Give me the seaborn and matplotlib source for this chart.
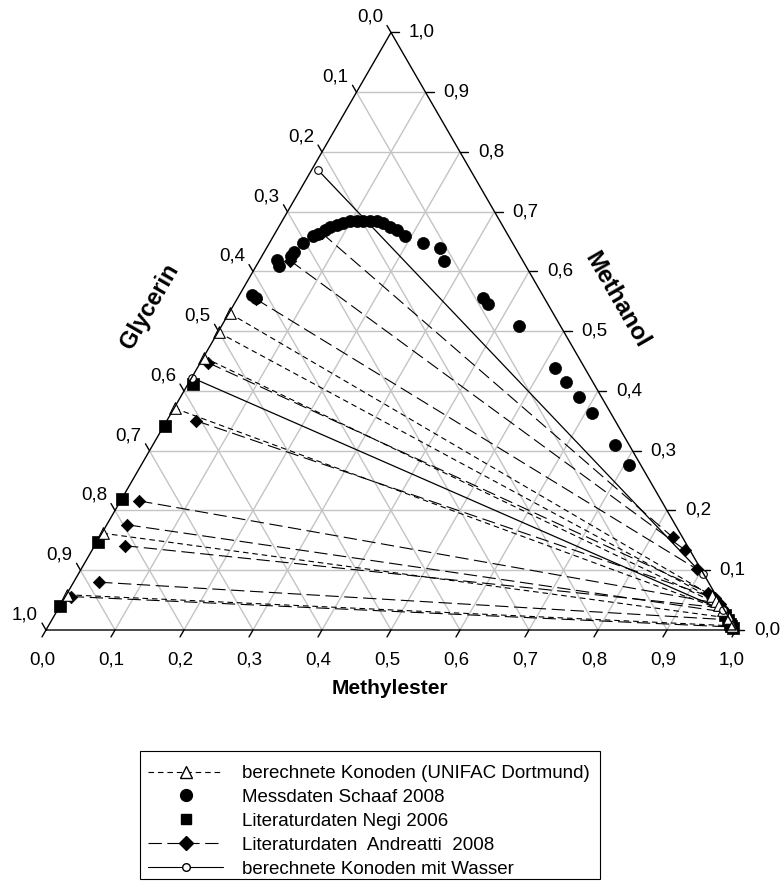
import numpy as np
import pandas as pd
import matplotlib.pyplot as plt
import seaborn as sns
from matplotlib.lines import Line2D
from matplotlib.patches import Rectangle

# mass fractions (methylester, methanol); glycerin = rest

# Messdaten Schaaf 2008 (binodal curve)
schaaf_ester = [0.018, 0.027, 0.025, 0.033, 0.042, 0.043, 0.049, 0.057, 0.063, 0.070,
                0.074, 0.083, 0.090, 0.098, 0.108, 0.117, 0.127, 0.138, 0.148, 0.161,
                0.174, 0.191, 0.223, 0.251, 0.268, 0.356, 0.368, 0.431, 0.519, 0.546,
                0.578, 0.610, 0.670, 0.707]
schaaf_methanol = [0.561, 0.556, 0.619, 0.609, 0.626, 0.633, 0.648, 0.659, 0.663, 0.669,
                   0.674, 0.678, 0.681, 0.684, 0.685, 0.685, 0.685, 0.684, 0.681, 0.675,
                   0.669, 0.659, 0.647, 0.639, 0.618, 0.556, 0.546, 0.509, 0.438, 0.415,
                   0.390, 0.363, 0.310, 0.276]

# Literaturdaten Negi 2006
negi_ester = [0.007, 0.001, 0.001, 0.001, 0.001, 0.972, 0.980, 0.986, 0.990, 0.994]
negi_methanol = [0.412, 0.342, 0.219, 0.148, 0.040, 0.025, 0.016, 0.010, 0.006, 0.003]

# berechnete Konoden (UNIFAC Dortmund): glycerin phase -> ester phase
unifac_left_ester = [0.001, 0.001, 0.001, 0.001, 0.001, 0.001]
unifac_left_methanol = [0.530, 0.498, 0.456, 0.371, 0.162, 0.059]
unifac_right_ester = [0.937, 0.947, 0.955, 0.965, 0.980, 0.990]
unifac_right_methanol = [0.057, 0.049, 0.042, 0.033, 0.020, 0.007]

# Literaturdaten Andreatti 2008
andreatti_left_ester = [0.068, 0.045, 0.027, 0.012, 0.043, 0.027, 0.030, 0.044, 0.037, 0.008]
andreatti_left_methanol = [0.664, 0.618, 0.554, 0.447, 0.350, 0.216, 0.176, 0.141, 0.080, 0.056]
andreatti_right_ester = [0.831, 0.859, 0.892, 0.929, 0.943, 0.955, 0.969, 0.961, 0.981, 0.992]
andreatti_right_methanol = [0.155, 0.134, 0.102, 0.062, 0.053, 0.044, 0.030, 0.037, 0.017, 0.005]

# berechnete Konoden mit Wasser
water_left_ester = [0.009, 0.001]
water_left_methanol = [0.770, 0.422]
water_right_ester = [0.905, 0.965]
water_right_methanol = [0.093, 0.033]

tick_values = np.round(np.arange(0, 1.01, 0.1), 1)
tick_labels = [f"{v:.1f}".replace(".", ",") for v in tick_values]

H = np.sqrt(3) / 2
PX = 1 / 690  # one pixel in triangle units


def to_xy(ester, methanol):
    ester = np.asarray(ester, dtype=float)
    methanol = np.asarray(methanol, dtype=float)
    return ester + methanol / 2, methanol * H


def points_frame(ester, methanol):
    x, y = to_xy(ester, methanol)
    return pd.DataFrame({"x": x, "y": y})


def tie_frame(le, lm, re, rm):
    rows = []
    for i, pair in enumerate(zip(le, lm, re, rm)):
        for e, m in ((pair[0], pair[1]), (pair[2], pair[3])):
            x, y = to_xy(e, m)
            rows.append({"tie": i, "x": float(x), "y": float(y)})
    return pd.DataFrame(rows)


sns.set_style("white")
plt.rcParams["font.family"] = ["Liberation Sans", "DejaVu Sans"]
plt.rcParams["text.color"] = "black"

W, HT = 781, 884
fig = plt.figure(figsize=(W / 100, HT / 100), dpi=100)
ax = fig.add_axes([0, 0, 1, 1])
ax.set_xlim(-46 * PX, 735 * PX)
ax.set_ylim(-254 * PX, 630 * PX)
ax.axis("off")

# grid
grid_kw = dict(color="#c4c4c4", lw=1.0, zorder=0)
for v in tick_values[1:-1]:
    ax.plot(*to_xy([0, 1 - v], [v, v]), **grid_kw)
    ax.plot(*to_xy([v, v], [0, 1 - v]), **grid_kw)
    ax.plot(*to_xy([1 - v, 0], [0, 1 - v]), **grid_kw)

# triangle frame
ax.plot(*to_xy([0, 1, 0, 0], [0, 0, 1, 0]), color="black", lw=1.0, zorder=5)

tick_len = 8 * PX
font_tick = 13.5
for v, lab in zip(tick_values, tick_labels):
    # bottom: Methylester
    x, y = to_xy(v, 0)
    ax.plot([x, x - 0.5 * tick_len], [y, y - H * tick_len], color="black", lw=1.0)
    ax.text(x - 4 * PX, -30 * PX, lab, ha="center", va="center", fontsize=font_tick)
    # right: Methanol
    x, y = to_xy(1 - v, v)
    ax.plot([x, x + tick_len], [y, y], color="black", lw=1.0)
    ax.text(x + 18 * PX, y, lab, ha="left", va="center", fontsize=font_tick)
    # left: Glycerin
    x, y = to_xy(0, 1 - v)
    ax.plot([x, x - 0.5 * tick_len], [y, y + H * tick_len], color="black", lw=1.0)
    ax.text(x - 21 * PX, y + 15 * PX, lab, ha="center", va="center", fontsize=font_tick)

title_kw = dict(fontweight="bold", ha="center", va="center")
ax.text(344 * PX, -58 * PX, "Methylester", fontsize=15, **title_kw)
ax.text(104 * PX, 324 * PX, "Glycerin", rotation=60, fontsize=17, **title_kw)
ax.text(571 * PX, 330 * PX, "Methanol", rotation=-60, fontsize=17.5, **title_kw)

# tie lines
short_dash = (0, (5, 3.5))
long_dash = (0, (12, 5))
sns.lineplot(data=tie_frame(unifac_left_ester, unifac_left_methanol,
                            unifac_right_ester, unifac_right_methanol),
             x="x", y="y", units="tie", estimator=None, sort=False,
             color="black", lw=0.8, linestyle=short_dash, legend=False, ax=ax, zorder=2)
sns.lineplot(data=tie_frame(andreatti_left_ester, andreatti_left_methanol,
                            andreatti_right_ester, andreatti_right_methanol),
             x="x", y="y", units="tie", estimator=None, sort=False,
             color="black", lw=0.8, linestyle=long_dash, legend=False, ax=ax, zorder=2)
sns.lineplot(data=tie_frame(water_left_ester, water_left_methanol,
                            water_right_ester, water_right_methanol),
             x="x", y="y", units="tie", estimator=None, sort=False,
             color="black", lw=0.9, linestyle="-", legend=False, ax=ax, zorder=2)

# markers
sns.scatterplot(data=points_frame(andreatti_left_ester + andreatti_right_ester,
                                  andreatti_left_methanol + andreatti_right_methanol),
                x="x", y="y", marker="D", s=40, color="black", edgecolor="black",
                linewidth=0.5, ax=ax, zorder=3)
sns.scatterplot(data=points_frame(negi_ester, negi_methanol),
                x="x", y="y", marker="s", s=68, color="black", edgecolor="black",
                linewidth=0.5, ax=ax, zorder=3)
sns.scatterplot(data=points_frame(unifac_left_ester + unifac_right_ester,
                                  unifac_left_methanol + unifac_right_methanol),
                x="x", y="y", marker="^", s=70, color="white", edgecolor="black",
                linewidth=0.8, ax=ax, zorder=4)
sns.scatterplot(data=points_frame(water_left_ester + water_right_ester,
                                  water_left_methanol + water_right_methanol),
                x="x", y="y", marker="o", s=30, color="white", edgecolor="black",
                linewidth=0.8, ax=ax, zorder=4)
sns.scatterplot(data=points_frame(schaaf_ester, schaaf_methanol),
                x="x", y="y", marker="o", s=75, color="black", edgecolor="black",
                linewidth=0.5, ax=ax, zorder=4)

handles = [
    Line2D([], [], color="black", lw=0.8, linestyle=short_dash, marker="^",
           markersize=8.5, markerfacecolor="white", markeredgecolor="black"),
    Line2D([], [], color="black", lw=0, marker="o", markersize=8.5),
    Line2D([], [], color="black", lw=0, marker="s", markersize=7.5),
    Line2D([], [], color="black", lw=0.8, linestyle=long_dash, marker="D",
           markersize=7),
    Line2D([], [], color="black", lw=0.8, linestyle="-", marker="o",
           markersize=5.5, markerfacecolor="white", markeredgecolor="black"),
]
labels = [
    "berechnete Konoden (UNIFAC Dortmund)",
    "Messdaten Schaaf 2008",
    "Literaturdaten Negi 2006",
    "Literaturdaten  Andreatti  2008",
    "berechnete Konoden mit Wasser",
]
leg = fig.legend(handles, labels, loc="upper left",
                 bbox_to_anchor=(148 / W, 1 - 765 / HT), bbox_transform=fig.transFigure,
                 frameon=False, fontsize=13.5, handlelength=4.0, handletextpad=1.0,
                 labelspacing=0.36, borderpad=0, borderaxespad=0, numpoints=1)

# legend box: fixed top/left/bottom, right edge after the longest label
fig.canvas.draw()
bb = leg.get_window_extent(fig.canvas.get_renderer())
box_left, box_top, box_bottom = 140, 750.5, 879
box_right = bb.x1 + 10
fig.add_artist(Rectangle((box_left / W, 1 - box_bottom / HT),
                         (box_right - box_left) / W, (box_bottom - box_top) / HT,
                         transform=fig.transFigure, fill=False, ec="black", lw=0.8))

fig.savefig("out.png", dpi=100)
